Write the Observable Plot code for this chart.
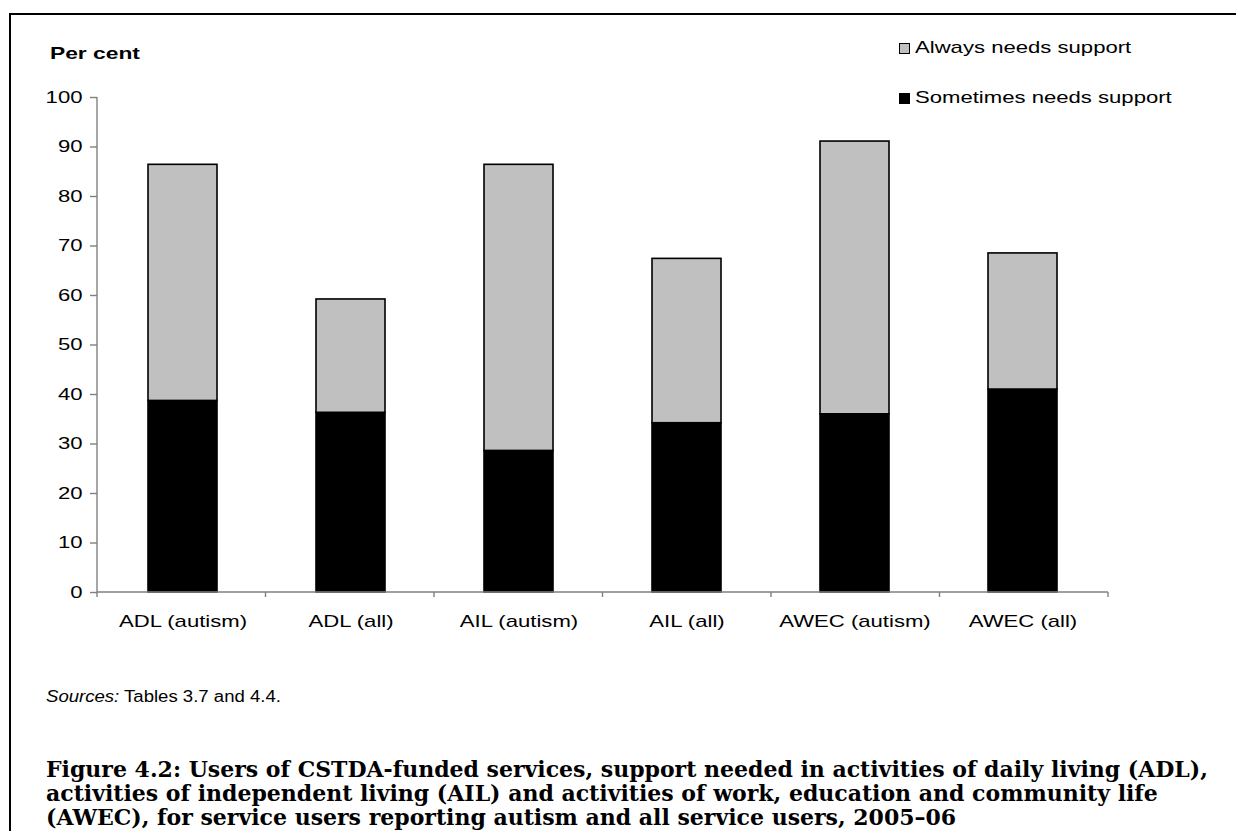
<!DOCTYPE html>
<html>
<head>
<meta charset="utf-8">
<script src="https://cdn.jsdelivr.net/npm/d3@7"></script>
<script src="https://cdn.jsdelivr.net/npm/@observablehq/plot@0.6"></script>
<style>
  html, body { margin: 0; padding: 0; background: #fff; }
  #wrap { position: relative; width: 1236px; height: 831px; overflow: hidden; background: #fff; font-family: "Liberation Sans", Arial, sans-serif; }
  #frame { position: absolute; left: 9px; top: 13px; width: 1400px; height: 1000px; border-left: 2.5px solid #000; border-top: 2.5px solid #000; }
  #chart { position: absolute; left: 0; top: 0; }
  .stretch { transform-origin: 0 50%; white-space: nowrap; }
  #ylabel { position: absolute; left: 50px; top: 44px; font-size: 17px; font-weight: bold; color: #000; transform: scaleX(1.34); }
  .leg { position: absolute; left: 899px; font-size: 17px; color: #000; display: flex; align-items: center; white-space: nowrap; }
  .leg span { display: inline-block; transform: scaleX(1.3); transform-origin: 0 50%; }
  .sw { width: 9px; height: 9px; border: 1px solid #000; margin-right: 5px; }
  #source { position: absolute; left: 46px; top: 688px; font-size: 16px; color: #000; transform: scaleX(1.16); }
  #title { position: absolute; left: 46px; top: 757px; font-family: "DejaVu Serif", serif; font-weight: bold; font-size: 22px; line-height: 24px; color: #000; white-space: nowrap; }
</style>
</head>
<body>
<div id="wrap">
  <div id="frame"></div>
  <div id="chart"></div>
  <div id="ylabel" class="stretch">Per cent</div>
  <div id="legend"></div>
  <div id="source" class="stretch"><i>Sources:</i> Tables 3.7 and 4.4.</div>
  <div id="title">Figure 4.2: Users of CSTDA-funded services, support needed in activities of daily living (ADL),<br>activities of independent living (AIL) and activities of work, education and community life<br>(AWEC), for service users reporting autism and all service users, 2005–06</div>
</div>
<script>
// ---- data ----
const categories = ["ADL (autism)", "ADL (all)", "AIL (autism)", "AIL (all)", "AWEC (autism)", "AWEC (all)"];
const seriesNames = ["Sometimes needs support", "Always needs support"];
const sometimesValues = [38.7, 36.3, 28.6, 34.2, 36.0, 41.0];
const alwaysValues = [47.7, 22.9, 57.8, 33.2, 55.1, 27.5];
const yTicks = [0, 10, 20, 30, 40, 50, 60, 70, 80, 90, 100];
const seriesColors = ["#000000", "#c0c0c0"];
const legendOrder = ["Always needs support", "Sometimes needs support"];

const rows = [
  ...categories.map((c, i) => ({category: c, series: seriesNames[0], value: sometimesValues[i]})),
  ...categories.map((c, i) => ({category: c, series: seriesNames[1], value: alwaysValues[i]}))
];

const W = 1236, H = 650;

function axisLines(index, scales, values, dims) {
  const {marginLeft, marginRight, width} = dims;
  const y0 = scales.y(yTicks[0]);
  const yTop = scales.y(yTicks[yTicks.length - 1]);
  const n = categories.length;
  const step = (width - marginLeft - marginRight) / n;
  const g = d3.create("svg:g").attr("stroke", "#808080").attr("stroke-width", 1.4).attr("fill", "none");
  g.append("line").attr("x1", marginLeft).attr("x2", marginLeft).attr("y1", yTop).attr("y2", y0);
  g.append("line").attr("x1", marginLeft).attr("x2", width - marginRight).attr("y1", y0).attr("y2", y0);
  for (let i = 0; i <= n; i++) {
    const x = marginLeft + i * step;
    g.append("line").attr("x1", x).attr("x2", x).attr("y1", y0).attr("y2", y0 + 5);
  }
  return g.node();
}

const chart = Plot.plot({
  width: W,
  height: H,
  marginTop: 97,
  marginBottom: H - 592,
  marginLeft: 97,
  marginRight: W - 1108,
  style: {fontFamily: "'Liberation Sans', Arial, sans-serif", fontSize: "17px", color: "#000", background: "transparent"},
  x: {domain: categories, paddingInner: 0.5875, paddingOuter: 0.29375, label: null},
  y: {domain: [0, 100], label: null},
  color: {domain: seriesNames, range: seriesColors},
  marks: [
    Plot.barY(rows, {x: "category", y: "value", fill: "series", stroke: "#000", strokeWidth: 1.6}),
    axisLines,
    Plot.axisY({ticks: yTicks, tickSize: 7, tickPadding: 8, stroke: "#808080", strokeWidth: 1.4, fill: "#000", label: null, tickFormat: d => String(d)}),
    Plot.axisX({tickSize: 0, tickPadding: 22, fill: "#000", label: null})
  ]
});
document.getElementById("chart").appendChild(chart);

// widen the axis glyphs horizontally, as in the source rendering
chart.querySelectorAll("text").forEach(t => {
  const len = t.getComputedTextLength();
  if (len > 0) {
    t.setAttribute("textLength", (len * 1.3).toFixed(1));
    t.setAttribute("lengthAdjust", "spacingAndGlyphs");
  }
});

// legend
const legend = document.getElementById("legend");
const legendTops = [38, 88];
legendOrder.forEach((name, i) => {
  const item = document.createElement("div");
  item.className = "leg";
  item.style.top = legendTops[i] + "px";
  const sw = document.createElement("div");
  sw.className = "sw";
  sw.style.background = seriesColors[seriesNames.indexOf(name)];
  item.appendChild(sw);
  const t = document.createElement("span");
  t.textContent = name;
  item.appendChild(t);
  legend.appendChild(item);
});
</script>
</body>
</html>
